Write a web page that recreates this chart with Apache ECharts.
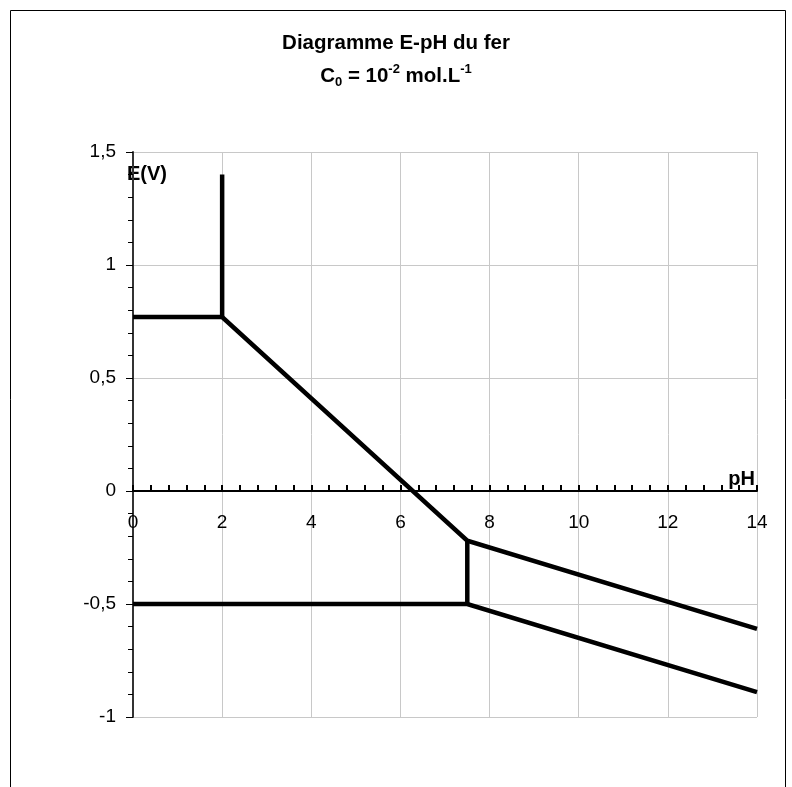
<!DOCTYPE html>
<html>
<head>
<meta charset="utf-8">
<script src="https://cdn.jsdelivr.net/npm/echarts@6/dist/echarts.min.js"></script>
<style>
html,body{margin:0;padding:0;background:#fff;}
#chart{width:792px;height:787px;}
</style>
</head>
<body>
<div id="chart"></div>
<script>
// ---- data (pH, E in volts) ----
const upperPH = [0, 2, 7.5, 14];
const upperE  = [0.77, 0.77, -0.22, -0.61];
const lowerPH = [0, 7.5, 14];
const lowerE  = [-0.5, -0.5, -0.89];
const fe3PrecipPH = [2, 2];
const fe3PrecipE  = [0.77, 1.4];
const fe2PrecipPH = [7.5, 7.5];
const fe2PrecipE  = [-0.5, -0.22];
const xTicks = [0, 2, 4, 6, 8, 10, 12, 14];
const yTicks = [-1, -0.5, 0, 0.5, 1, 1.5];

const titleLine1 = 'Diagramme E-pH du fer';
const FONT = '"Liberation Sans", Arial, Helvetica, sans-serif';

function pairs(xs, ys) { return xs.map((x, i) => [x, ys[i]]); }

const W = 792, H = 787;
const GRID = {left: 133, top: 152, right: 35, bottom: 70};
const yMin = yTicks[0], yMax = yTicks[yTicks.length - 1];
const plotH = H - GRID.top - GRID.bottom;
// move the pH axis (line, ticks, labels) up to E = 0
const xAxisOffset = -plotH * (0 - yMin) / (yMax - yMin);

const chart = echarts.init(document.getElementById('chart'), null, {renderer: 'canvas'});

function lineSeries(name, xs, ys) {
  return {
    name: name,
    type: 'line',
    data: pairs(xs, ys),
    showSymbol: false,
    symbol: 'none',
    animation: false,
    lineStyle: {color: '#000', width: 4.5, join: 'miter', cap: 'butt'},
    z: 5
  };
}

const option = {
  backgroundColor: '#fff',
  animation: false,
  graphic: [{
    type: 'rect',
    shape: {x: 10.5, y: 10.5, width: 775, height: 800},
    style: {fill: 'none', stroke: '#000', lineWidth: 1},
    silent: true,
    z: -10
  }],
  title: [{
    text: titleLine1,
    left: 'center',
    top: 33,
    padding: 0,
    textStyle: {fontFamily: FONT, fontSize: 20.5, fontWeight: 'bold', color: '#000'}
  }, {
    text: '{b|C}{sub|0}{b| = 10}{sup|-2}{b| mol.L}{sup|-1}',
    left: 'center',
    top: 63,
    padding: 0,
    textStyle: {
      fontFamily: FONT, fontSize: 20.5, fontWeight: 'bold', color: '#000',
      rich: {
        b: {fontFamily: FONT, fontSize: 20.5, fontWeight: 'bold', color: '#000', lineHeight: 26},
        sub: {fontFamily: FONT, fontSize: 13, fontWeight: 'bold', color: '#000', lineHeight: 13, verticalAlign: 'bottom'},
        sup: {fontFamily: FONT, fontSize: 13, fontWeight: 'bold', color: '#000', lineHeight: 13, verticalAlign: 'top'}
      }
    }
  }],
  grid: {left: GRID.left, top: GRID.top, right: GRID.right, bottom: GRID.bottom, containLabel: false, outerBoundsMode: 'none'},
  xAxis: {
    type: 'value',
    position: 'bottom',
    offset: xAxisOffset,
    min: xTicks[0],
    max: xTicks[xTicks.length - 1],
    interval: 2,
    name: 'pH',
    nameLocation: 'end',
    nameGap: 0,
    nameMoveOverlap: false,
    nameTextStyle: {fontFamily: FONT, fontSize: 20, fontWeight: 'bold', color: '#000',
      align: 'right', verticalAlign: 'bottom', padding: [0, 2, 2, 0]},
    axisLine: {show: true, onZero: false, lineStyle: {color: '#000', width: 2}},
    axisTick: {show: true, inside: true, length: 6, lineStyle: {color: '#000', width: 2}},
    minorTick: {show: true, splitNumber: 5, length: 6, lineStyle: {color: '#000', width: 2}},
    axisLabel: {fontFamily: FONT, fontSize: 19, color: '#000', margin: 22, showMinLabel: true, showMaxLabel: true},
    splitLine: {show: true, lineStyle: {color: '#c8c8c8', width: 1}}
  },
  yAxis: {
    type: 'value',
    min: yMin,
    max: yMax,
    interval: 0.5,
    name: 'E(V)',
    nameLocation: 'end',
    nameGap: -22,
    nameMoveOverlap: false,
    nameTextStyle: {fontFamily: FONT, fontSize: 20, fontWeight: 'bold', color: '#000',
      align: 'center', verticalAlign: 'middle', padding: [0, 0, 0, 28]},
    axisLine: {show: true, onZero: false, lineStyle: {color: '#333', width: 2}},
    axisTick: {show: true, inside: false, length: 7, lineStyle: {color: '#000', width: 1}},
    minorTick: {show: true, splitNumber: 5, length: 5, lineStyle: {color: '#000', width: 1}},
    axisLabel: {fontFamily: FONT, fontSize: 19, color: '#000', margin: 17,
      formatter: v => String(v).replace('.', ',')},
    splitLine: {show: true, lineStyle: {color: '#c8c8c8', width: 1}}
  },
  series: [
    lineSeries('upper', upperPH, upperE),
    lineSeries('lower', lowerPH, lowerE),
    lineSeries('fe3precip', fe3PrecipPH, fe3PrecipE),
    lineSeries('fe2precip', fe2PrecipPH, fe2PrecipE)
  ]
};
chart.setOption(option);
</script>
</body>
</html>
